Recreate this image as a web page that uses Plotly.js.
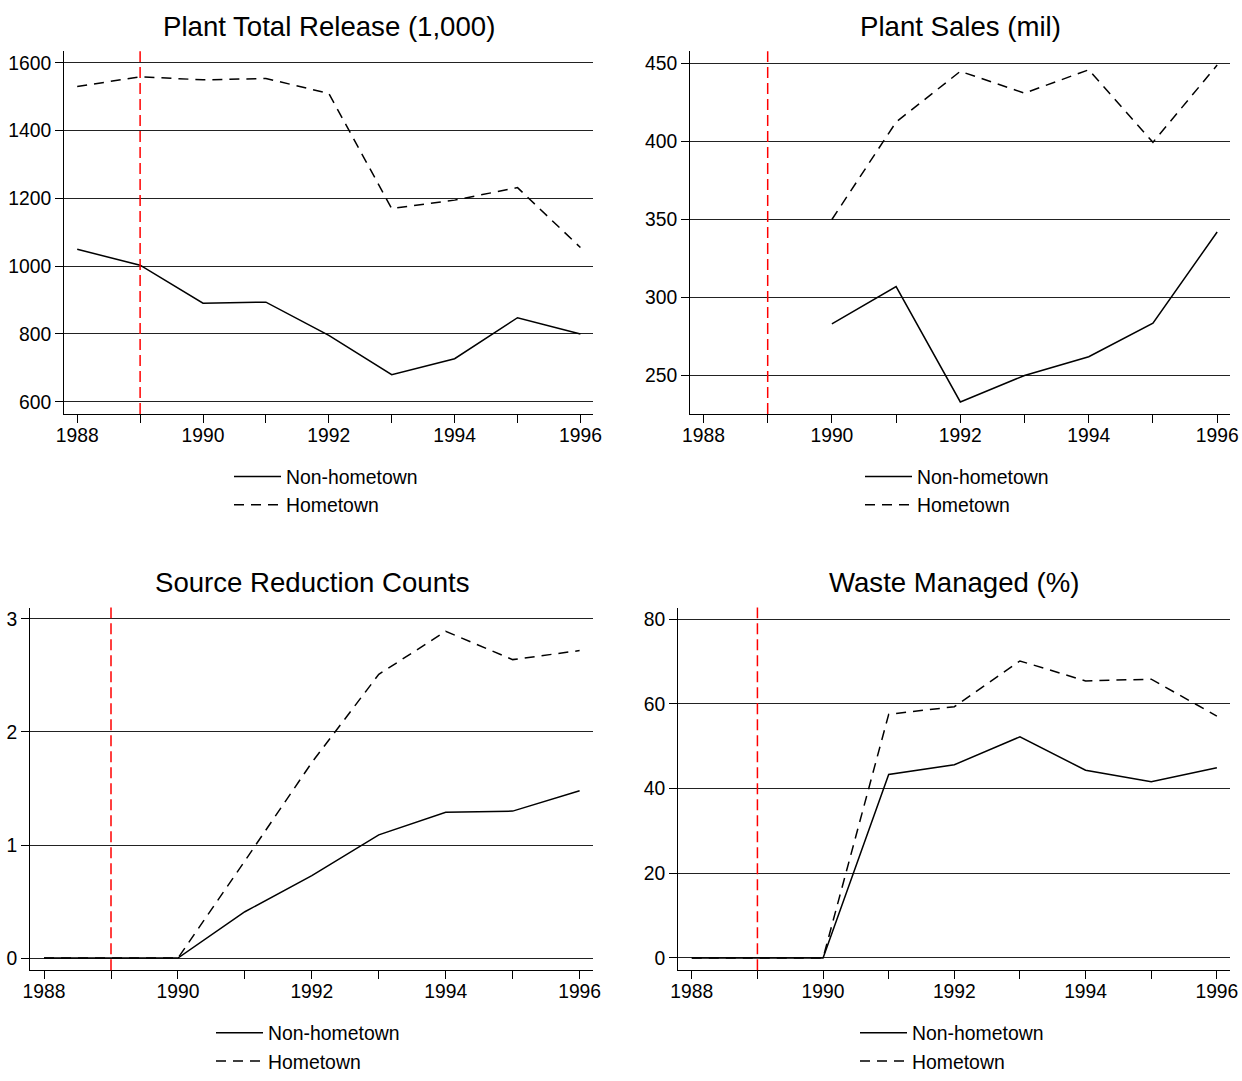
<!DOCTYPE html>
<html>
<head>
<meta charset="utf-8">
<script src="https://cdn.plot.ly/plotly-3.0.1.min.js"></script>
<style>
html,body{margin:0;padding:0;background:#fff;overflow:hidden;}
#chart{display:block;width:1242px;height:1081px;}
</style>
</head>
<body>
<div id="chart"></div>
<script>
// ---- data ----
const years = [1988, 1989, 1990, 1991, 1992, 1993, 1994, 1995, 1996];
const salesYears = [1990, 1991, 1992, 1993, 1994, 1995, 1996];
const tickLabels = ['1988', '', '1990', '', '1992', '', '1994', '', '1996'];

const releaseNonHome = [1050, 1003, 891, 894, 796, 680, 727, 848, 800];
const releaseHome    = [1530, 1559, 1550, 1554, 1510, 1170, 1195, 1232, 1055];

const salesNonHome = [283, 307, 233, 250, 262, 283.5, 342];
const salesHome    = [350, 412.5, 445, 431, 446, 399.5, 449];

const srcNonHome = [0, 0, 0, 0.41, 0.73, 1.09, 1.29, 1.30, 1.48];
const srcHome    = [0, 0, 0, 0.86, 1.73, 2.51, 2.89, 2.64, 2.72];

const wasteNonHome = [0, 0, 0, 43.3, 45.6, 52.2, 44.3, 41.6, 44.9];
const wasteHome    = [0, 0, 0, 57.5, 59.3, 70.1, 65.4, 65.8, 57.1];

const titles = ['Plant Total Release (1,000)', 'Plant Sales (mil)', 'Source Reduction Counts', 'Waste Managed (%)'];
const seriesNames = ['Non-hometown', 'Hometown'];
const treatYear = 1989;

// ---- layout helpers ----
const W = 1242, H = 1081;
const FONT = 'Arial, "Liberation Sans", sans-serif';
const px = v => v / W;
const py = v => 1 - v / H;

const panels = [
  {xs: '', x0: 64,  x1: 593,  y0: 52,  y1: 419, yr: [564, 1634],   yt: [600, 800, 1000, 1200, 1400, 1600], legX: 326, legY: 463, titleY: 27,
   xv: years, a: releaseNonHome, b: releaseHome},
  {xs: '2', x0: 690, x1: 1230, y0: 52, y1: 419, yr: [225.3, 457.8], yt: [250, 300, 350, 400, 450], legX: 957, legY: 463, titleY: 27,
   xv: salesYears, a: salesNonHome, b: salesHome},
  {xs: '3', x0: 30,  x1: 593,  y0: 615, y1: 982, yr: [-0.107, 3.10], yt: [0, 1, 2, 3], legX: 308, legY: 1026, titleY: 590,
   xv: years, a: srcNonHome, b: srcHome},
  {xs: '4', x0: 678, x1: 1230, y0: 615, y1: 982, yr: [-2.9, 82.7], yt: [0, 20, 40, 60, 80], legX: 952, legY: 1026, titleY: 590,
   xv: years, a: wasteNonHome, b: wasteHome}
];

const data = [];
const layout = {
  width: W, height: H,
  margin: {l: 0, r: 0, t: 0, b: 0},
  paper_bgcolor: '#fff', plot_bgcolor: '#fff',
  font: {family: FONT, size: 19, color: '#000'},
  showlegend: true,
  annotations: [], shapes: []
};

panels.forEach((p, i) => {
  const xa = 'xaxis' + p.xs, ya = 'yaxis' + p.xs;
  const xr = 'x' + p.xs, yr = 'y' + p.xs;
  const leg = 'legend' + (p.xs);
  data.push({
    x: p.xv, y: p.a, xaxis: xr, yaxis: yr, type: 'scatter', mode: 'lines',
    name: seriesNames[0], legend: leg,
    line: {color: '#000', width: 1.5}
  });
  data.push({
    x: p.xv, y: p.b, xaxis: xr, yaxis: yr, type: 'scatter', mode: 'lines',
    name: seriesNames[1], legend: leg,
    line: {color: '#000', width: 1.5, dash: '10px,7px'}
  });
  layout[xa] = {
    domain: [px(p.x0), px(p.x1)], anchor: yr,
    range: [1987.79, 1996.2],
    tickmode: 'array', tickvals: years, ticktext: tickLabels,
    ticks: 'outside', ticklen: 8, tickwidth: 1, tickcolor: '#000',
    ticklabelstandoff: -4,
    showline: true, linecolor: '#000', linewidth: 1,
    showgrid: false, zeroline: false,
    tickfont: {family: FONT, size: 19.3, color: '#000'}
  };
  layout[ya] = {
    domain: [py(p.y1), py(p.y0)], anchor: xr,
    range: p.yr,
    tickmode: 'array', tickvals: p.yt,
    ticks: 'outside', ticklen: 8, tickwidth: 1, tickcolor: '#000',
    showline: true, linecolor: '#000', linewidth: 1,
    showgrid: true, gridcolor: '#222', gridwidth: 1,
    zeroline: false,
    tickfont: {family: FONT, size: 19.3, color: '#000'}
  };
  layout[leg] = {
    x: px(p.legX), xanchor: 'center', y: py(p.legY), yanchor: 'top',
    xref: 'paper', yref: 'paper',
    bgcolor: 'rgba(0,0,0,0)', borderwidth: 0,
    font: {family: FONT, size: 19.4, color: '#000'},
    itemwidth: 47, tracegroupgap: 0
  };
  layout.annotations.push({
    text: titles[i], xref: 'paper', yref: 'paper',
    x: px((p.x0 + p.x1) / 2), y: py(p.titleY), xanchor: 'center', yanchor: 'middle',
    showarrow: false, font: {family: FONT, size: 27.6, color: '#000'}
  });
  layout.shapes.push({
    type: 'line', xref: xr, yref: yr + ' domain',
    x0: treatYear, x1: treatYear, y0: 0, y1: 1,
    line: {color: '#ff0000', width: 1.5, dash: '11px,5px'}
  });
});

Plotly.newPlot('chart', data, layout, {displayModeBar: false, staticPlot: true});
</script>
</body>
</html>
